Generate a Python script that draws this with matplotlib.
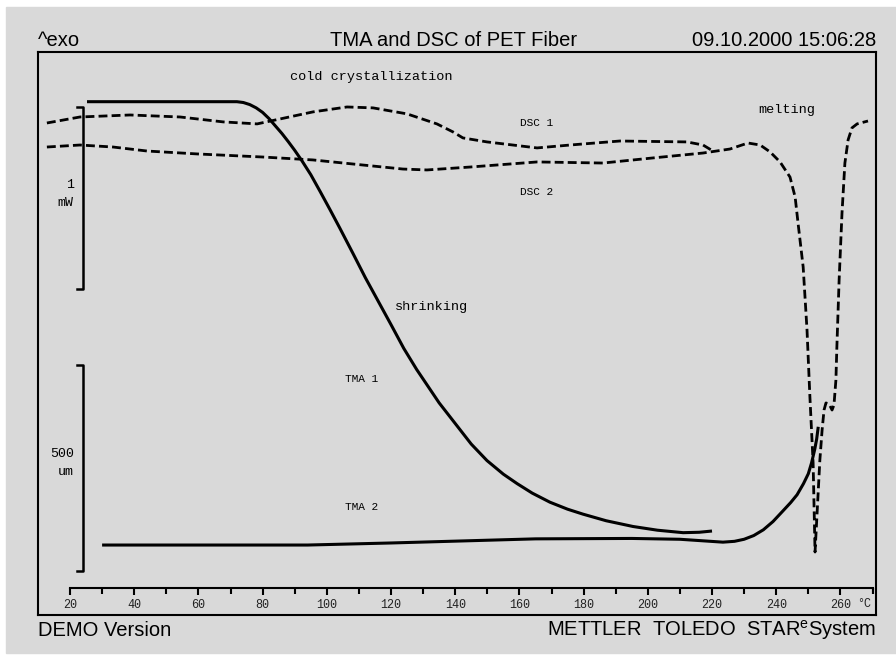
import matplotlib.pyplot as plt
from matplotlib.patches import Rectangle

plt.rcParams['mathtext.fontset'] = 'custom'
plt.rcParams['mathtext.rm'] = 'Liberation Sans'

# DSC heat flow (mW), temperature in °C
dsc1_t = [12.8, 23.1, 38.7, 54.3, 67.7, 78.3, 85.4, 95.7, 106.3, 114.4, 125.0,
          134.3, 139.3, 142.4, 149.9, 165.5, 175.8, 191.3, 212.2, 217.2, 220.3]
dsc1_mw = [0.912, 0.945, 0.956, 0.945, 0.918, 0.907, 0.934, 0.973, 1.000, 0.995, 0.962,
           0.907, 0.863, 0.830, 0.808, 0.775, 0.791, 0.813, 0.808, 0.791, 0.758]

dsc2_t = [12.8, 23.1, 33.4, 44.0, 59.6, 80.1, 95.7, 111.3, 123.7, 131.2, 144.6,
          165.5, 186.0, 201.6, 217.2, 225.6, 231.2, 235.0, 238.1, 241.2, 244.3,
          245.9, 246.8, 248.4, 249.6, 250.5, 251.5, 252.1, 253.0, 253.6, 254.3,
          254.9, 255.5, 256.5, 257.4, 258.0, 258.6, 258.9, 259.6, 260.5, 261.4,
          262.4, 263.6, 265.2, 268.6]
dsc2_mw = [0.780, 0.791, 0.780, 0.758, 0.742, 0.725, 0.709, 0.681, 0.659, 0.654, 0.670,
           0.698, 0.692, 0.720, 0.747, 0.769, 0.802, 0.791, 0.753, 0.698, 0.615,
           0.505, 0.363, 0.121, -0.225, -0.593, -0.956, -1.445, -1.143, -0.940, -0.775,
           -0.665, -0.626, -0.632, -0.665, -0.637, -0.500, -0.319, 0.049, 0.418, 0.692,
           0.819, 0.885, 0.907, 0.923]

# TMA length (um)
tma1_t = [25.3, 50.0, 72.0, 74.0, 76.0, 78.0, 80.0, 82.0, 84.0, 86.0, 88.0, 90.0,
          92.3, 95.0, 98.0, 101.0, 104.0, 108.2, 112.0, 116.0, 120.0, 124.0, 128.0,
          131.2, 135.0, 140.6, 145.0, 149.9, 155.0, 159.3, 164.0, 169.5, 175.0,
          179.8, 187.0, 195.4, 203.0, 211.0, 216.0, 220.0]
tma1_um = [1139, 1139, 1139, 1137, 1132, 1124, 1113, 1098, 1080, 1062, 1042, 1021,
           995, 962, 920, 877, 833, 770, 712, 655, 598, 540, 489,
           452, 408, 352, 308, 268, 235, 212, 189, 167, 150,
           138, 122, 108, 99, 93, 94, 97]

tma2_t = [30.0, 94.0, 120.0, 147.0, 165.0, 195.0, 210.0, 223.4, 227.0, 230.0, 233.0,
          236.0, 239.0, 242.0, 244.5, 246.5, 248.5, 250.0, 251.0, 252.0, 252.6, 253.1]
tma2_um = [63, 63, 68, 74, 78, 79, 77, 70, 72, 77, 86,
           100, 120, 145, 166, 185, 212, 236, 262, 295, 320, 350]

major_ticks = list(range(20, 261, 20))
minor_ticks = list(range(30, 271, 20)) + [270]

W, H = 896, 656
fig = plt.figure(figsize=(W / 100, H / 100), dpi=100, facecolor='white')
fig.patches.append(Rectangle((6 / W, 3 / H), 890 / W, 646 / H,
                             transform=fig.transFigure, color='#d9d9d9', zorder=-10))

# frame = main axes (DSC scale)
L, R, T, B = 38, 876, 52, 615
ax = fig.add_axes([L / W, 1 - B / H, (R - L) / W, (B - T) / H])
ax.set_facecolor('none')
ax.set_xlim(10.03, 271.09)
ax.set_ylim(-1.791, 1.302)
ax.set_xticks([])
ax.set_yticks([])
for s in ax.spines.values():
    s.set_linewidth(1.5)

# TMA scale shares x
ax2 = ax.twinx()
ax2.set_ylim(-106.8, 1259.6)
ax2.set_yticks([])
for s in ax2.spines.values():
    s.set_visible(False)

dash = (0, (3.2, 1.5))
ax.plot(dsc1_t, dsc1_mw, color='black', lw=2.0, linestyle=dash)
ax.plot(dsc2_t, dsc2_mw, color='black', lw=2.0, linestyle=dash)
ax2.plot(tma1_t, tma1_um, color='black', lw=2.2, solid_capstyle='butt')
ax2.plot(tma2_t, tma2_um, color='black', lw=2.2, solid_capstyle='butt')

# scale bars
ax.plot([22.3, 24.0, 24.0, 22.3], [1, 1, 0, 0], color='black', lw=1.8)
ax2.plot([22.3, 24.0, 24.0, 22.3], [500, 500, 0, 0], color='black', lw=1.8)

mono = 'Liberation Mono'
ax.text(21.2, 0.571, '1', family=mono, fontsize=9.5, ha='right', va='center')
ax.text(21.2, 0.473, 'mW', family=mono, fontsize=9.5, ha='right', va='center')
ax.text(21.2, -0.907, '500', family=mono, fontsize=9.5, ha='right', va='center')
ax.text(21.2, -1.005, 'um', family=mono, fontsize=9.5, ha='right', va='center')

ax.text(88.5, 1.165, 'cold crystallization', family=mono, fontsize=9.7, va='center')
ax.text(234.3, 0.984, 'melting', family=mono, fontsize=9.7, va='center')
ax.text(121.2, -0.099, 'shrinking', family=mono, fontsize=9.7, va='center')
ax.text(160.2, 0.912, 'DSC 1', family=mono, fontsize=8, va='center')
ax.text(160.2, 0.533, 'DSC 2', family=mono, fontsize=8, va='center')
ax.text(105.7, -0.495, 'TMA 1', family=mono, fontsize=8, va='center')
ax.text(105.7, -1.198, 'TMA 2', family=mono, fontsize=8, va='center')

# temperature axis inside the frame
axt = fig.add_axes([L / W, 1 - 588 / H, (R - L) / W, 0.0001])
axt.set_facecolor('none')
axt.set_xlim(ax.get_xlim())
axt.set_yticks([])
for k in ['left', 'right', 'top']:
    axt.spines[k].set_visible(False)
axt.spines['bottom'].set_bounds(20, 270)
axt.spines['bottom'].set_linewidth(1.5)
axt.set_xticks(major_ticks)
axt.set_xticks(minor_ticks, minor=True)
axt.tick_params(axis='x', which='major', direction='out', length=5, width=1.5, pad=3,
                labelsize=8.5, labelcolor='#222222')
axt.tick_params(axis='x', which='minor', direction='out', length=4, width=1.5)
for lab in axt.get_xticklabels():
    lab.set_family(mono)
fig.text(871 / W, 1 - 604 / H, '°C', family=mono, fontsize=8.5, color='#222222',
         ha='right', va='center')

sans = 'Liberation Sans'
fig.text(38 / W, 1 - 40 / H, '^exo', family=sans, fontsize=14.5, va='center')
fig.text(454 / W, 1 - 40 / H, 'TMA and DSC of PET Fiber', family=sans, fontsize=14.5,
         ha='center', va='center')
fig.text(876 / W, 1 - 40 / H, '09.10.2000 15:06:28', family=sans, fontsize=14.5,
         ha='right', va='center')
fig.text(38 / W, 1 - 630 / H, 'DEMO Version', family=sans, fontsize=14.5, va='center')
fig.text(876 / W, 1 - 630 / H, r'METTLER  TOLEDO  STAR$^\mathrm{e}$System', family=sans,
         fontsize=14.5, ha='right', va='center')

fig.savefig('out.png', dpi=100, facecolor='white')
